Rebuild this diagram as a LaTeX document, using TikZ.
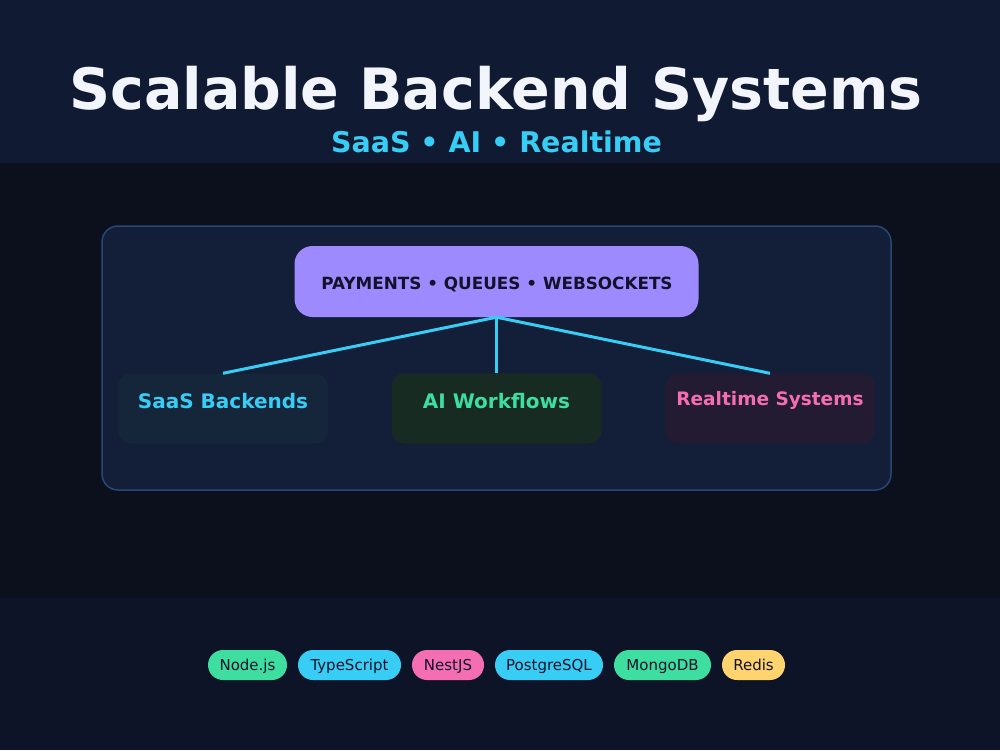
\documentclass[tikz,border=0pt]{standalone}
\usepackage{fontspec}
\setmainfont{DejaVu Sans}
\definecolor{topbg}{HTML}{111A33}
\definecolor{midbg}{HTML}{0B101C}
\definecolor{botbg}{HTML}{0E1427}
\definecolor{panel}{HTML}{131E38}
\definecolor{panelline}{HTML}{2A4676}
\definecolor{purple}{HTML}{9D8AFF}
\definecolor{darktxt}{HTML}{12122A}
\definecolor{cyan}{HTML}{38CDF5}
\definecolor{green}{HTML}{3EDDA0}
\definecolor{pink}{HTML}{F56EB4}
\definecolor{yellow}{HTML}{FFD36E}
\definecolor{saasbg}{HTML}{15263A}
\definecolor{aibg}{HTML}{182B22}
\definecolor{rtbg}{HTML}{221B31}
\definecolor{titlecol}{HTML}{F3F5FC}
\begin{document}
\begin{tikzpicture}[x=1pt,y=-1pt,
  child/.style={rounded corners=13pt,minimum width=210pt,minimum height=70pt,inner sep=0pt},
  pill/.style={rounded corners=15pt,minimum height=30pt,inner xsep=0pt,inner ysep=0pt,text=darktxt,text height=14.5pt,text depth=3pt,font=\fontsize{15}{18}\selectfont},
  link/.style={cyan,line width=3pt}]
\useasboundingbox (0,0) rectangle (1000,750);
\fill[topbg] (0,0) rectangle (1000,163);
\fill[midbg] (0,163) rectangle (1000,598);
\fill[botbg] (0,598) rectangle (1000,750);
\node[text=titlecol,font=\bfseries\fontsize{57}{68}\selectfont,anchor=base] (title) at (496,109) {Scalable Backend Systems};
\node[text=cyan,font=\bfseries\fontsize{28.5}{34}\selectfont,anchor=base] (sub) at (496.5,152) {SaaS • AI • Realtime};
\draw[panelline,fill=panel,line width=1.5pt,rounded corners=16pt] (102,226) rectangle (891,490);
\node[fill=purple,rounded corners=18pt,minimum width=404pt,minimum height=71pt,inner sep=0pt] (top) at (496.5,281.5) {};
\node[text=darktxt,font=\bfseries\fontsize{16.8}{20}\selectfont,anchor=base] (topt) at (497,289.5) {PAYMENTS • QUEUES • WEBSOCKETS};
\node[child,fill=saasbg] (saas) at (223,408.5) {};
\node[child,fill=aibg] (ai) at (496.5,408.5) {};
\node[child,fill=rtbg] (rt) at (770,408.5) {};
\node[text=cyan,font=\bfseries\fontsize{20}{24}\selectfont,anchor=base] (saast) at (223,408) {SaaS Backends};
\node[text=green,font=\bfseries\fontsize{20}{24}\selectfont,anchor=base] (ait) at (496.5,408) {AI Workflows};
\node[text=pink,font=\bfseries\fontsize{18.5}{22}\selectfont,anchor=base] (rtt) at (770,405) {Realtime Systems};
\draw[link] (top.south) -- (saas.north);
\draw[link] (top.south) -- (ai.north);
\draw[link] (top.south) -- (rt.north);
\node[pill,fill=green,minimum width=79pt] (p1) at (247.5,665) {Node.js};
\node[pill,fill=cyan,minimum width=103pt] (p2) at (349.5,665) {TypeScript};
\node[pill,fill=pink,minimum width=72pt] (p3) at (448,665) {NestJS};
\node[pill,fill=cyan,minimum width=108pt] (p4) at (549,665) {PostgreSQL};
\node[pill,fill=green,minimum width=97pt] (p5) at (662.5,665) {MongoDB};
\node[pill,fill=yellow,minimum width=63pt] (p6) at (753.5,665) {Redis};
\end{tikzpicture}
\end{document}
